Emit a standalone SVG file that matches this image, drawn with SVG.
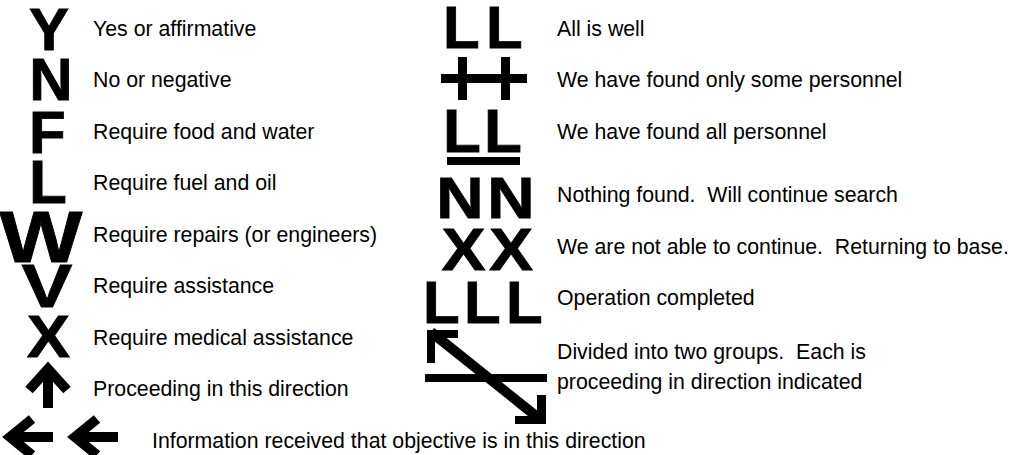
<svg xmlns="http://www.w3.org/2000/svg" width="1027" height="455" viewBox="0 0 1027 455">
<style>
.lbl{font-family:"Liberation Sans",Arial,sans-serif;font-size:21.3px;fill:#000;white-space:pre}
.sym{font-family:"Liberation Sans",Arial,sans-serif;font-weight:bold;fill:#000;stroke:#000;stroke-width:0.8}
.bar{fill:#000}
.ln{fill:none;stroke:#000;stroke-width:10;stroke-linecap:butt;stroke-linejoin:miter}
</style>
<rect width="1027" height="455" fill="#fff"/>
<g id="sig-yes"><text class="sym" x="49" y="50" font-size="60" text-anchor="middle">Y</text><text class="lbl" x="93" y="36">Yes or affirmative</text></g>
<g id="sig-no"><text class="sym" x="51" y="100" font-size="60" text-anchor="middle">N</text><text class="lbl" x="93" y="87">No or negative</text></g>
<g id="sig-food"><text class="sym" x="29" y="153" font-size="60">F</text><text class="lbl" x="93" y="139">Require food and water</text></g>
<g id="sig-fuel"><text class="sym" x="29" y="203" font-size="62">L</text><text class="lbl" x="93" y="190">Require fuel and oil</text></g>
<g id="sig-repairs"><text class="sym" font-size="72" text-anchor="middle" transform="translate(41,262) scale(1.22,1)">W</text><text class="lbl" x="93" y="242">Require repairs (or engineers)</text></g>
<g id="sig-assist"><text class="sym" font-size="61" text-anchor="middle" transform="translate(47,307) scale(1.25,1)">V</text><text class="lbl" x="93" y="293">Require assistance</text></g>
<g id="sig-medical"><text class="sym" font-size="59" text-anchor="middle" transform="translate(48.5,357) scale(1.1,1)">X</text><text class="lbl" x="93" y="345">Require medical assistance</text></g>
<g id="sig-proceed"><path class="ln" d="M48,408 V372 M29,390 L48,369 L67,390"/><text class="lbl" x="93" y="396">Proceeding in this direction</text></g>
<g id="sig-objective"><path class="ln" d="M53,437 H12 M32,419 L10,437 L32,455 M118,437 H77 M97,419 L75,437 L97,455"/><text class="lbl" x="152" y="448">Information received that objective is in this direction</text></g>
<g id="sig-well"><text class="sym" x="443" y="48" font-size="60">L</text><text class="sym" x="486" y="48" font-size="60">L</text><text class="lbl" x="557" y="36">All is well</text></g>
<g id="sig-some"><rect class="bar" x="441" y="74" width="86" height="9"/><rect class="bar" x="458" y="57" width="9" height="43"/><rect class="bar" x="501" y="57" width="9" height="43"/><text class="lbl" x="557" y="87">We have found only some personnel</text></g>
<g id="sig-all"><text class="sym" x="443" y="152" font-size="62">L</text><text class="sym" x="484" y="152" font-size="62">L</text><rect class="bar" x="447" y="157" width="73" height="8"/><text class="lbl" x="557" y="139">We have found all personnel</text></g>
<g id="sig-nothing"><text class="sym" font-size="57" text-anchor="middle" transform="translate(460,218) scale(1.15,1)">N</text><text class="sym" font-size="57" text-anchor="middle" transform="translate(511,218) scale(1.15,1)">N</text><text class="lbl" x="557" y="202" xml:space="preserve">Nothing found.  Will continue search</text></g>
<g id="sig-unable"><text class="sym" font-size="60" text-anchor="middle" transform="translate(463.5,270) scale(1.1,1)">X</text><text class="sym" font-size="60" text-anchor="middle" transform="translate(511,270) scale(1.1,1)">X</text><text class="lbl" x="557" y="254" xml:space="preserve">We are not able to continue.  Returning to base.</text></g>
<g id="sig-completed"><text class="sym" x="423" y="323" font-size="60">L</text><text class="sym" x="464" y="323" font-size="60">L</text><text class="sym" x="506" y="323" font-size="60">L</text><text class="lbl" x="557" y="305">Operation completed</text></g>
<g id="sig-divided"><path class="ln" d="M431,332 L541,420"/><rect class="bar" x="427" y="330" width="31" height="8"/><rect class="bar" x="427" y="330" width="8" height="33"/><rect class="bar" x="425" y="374" width="122" height="8"/><rect class="bar" x="537" y="395" width="9" height="29"/><rect class="bar" x="515" y="416" width="31" height="8"/><text class="lbl" x="557" y="359" xml:space="preserve">Divided into two groups.  Each is</text><text class="lbl" x="557" y="389">proceeding in direction indicated</text></g>
</svg>
